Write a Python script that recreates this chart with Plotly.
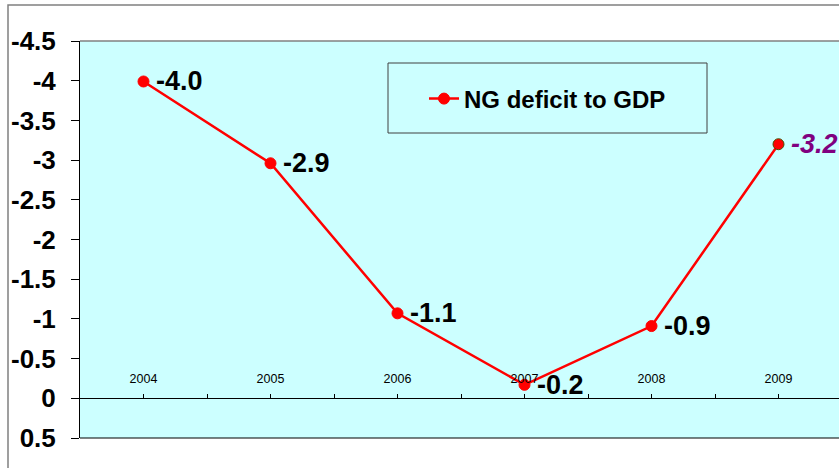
import plotly.graph_objects as go

# data
years = ["2004", "2005", "2006", "2007", "2008", "2009"]
deficit = [-3.99, -2.96, -1.07, -0.17, -0.91, -3.2]
value_labels = ["-4.0", "-2.9", "-1.1", "-0.2", "-0.9", "-3.2"]
y_ticks = [-4.5, -4, -3.5, -3, -2.5, -2, -1.5, -1, -0.5, 0, 0.5]

FONT = "Arial, Liberation Sans, sans-serif"
CYAN = "#CCFFFF"


def build_figure():
    x = list(range(len(years)))

    # last point is the projection: purple italic label, darker marker rim
    label_colors = ["black"] * (len(years) - 1) + ["#800080"]
    label_texts = value_labels[:-1] + [f"<i>{value_labels[-1]}</i>"]
    rim_colors = ["red"] * (len(years) - 1) + ["#4d4d00"]

    fig = go.Figure(
        go.Scatter(
            x=x,
            y=deficit,
            mode="lines+markers",
            name="NG deficit to GDP",
            line=dict(color="red", width=2.5),
            marker=dict(color="red", size=11, line=dict(color=rim_colors, width=1)),
        )
    )

    for xi, yi, txt, col in zip(x, deficit, label_texts, label_colors):
        fig.add_annotation(
            x=xi, y=yi, text=txt, showarrow=False,
            xanchor="left", yanchor="middle", xshift=10,
            font=dict(family=FONT, size=27, color=col, weight="bold"),
        )

    # category ticks at centres and boundaries, labels only at centres
    tickvals = []
    ticktext = []
    for i, yr in enumerate(years):
        tickvals += [i, i + 0.5]
        ticktext += [yr, ""]

    fig.update_xaxes(
        range=[-0.5, -0.5 + 759 / 127],
        tickvals=tickvals,
        ticktext=ticktext,
        side="top",
        anchor="free",
        position=0.1,
        showline=True,
        linecolor="black",
        linewidth=1,
        ticks="outside",
        ticklen=4,
        tickcolor="black",
        ticklabelstandoff=6,
        showgrid=False,
        zeroline=False,
        tickfont=dict(family=FONT, size=12.5, color="black"),
    )
    fig.update_yaxes(
        range=[0.5, -4.5],
        tickvals=y_ticks,
        ticktext=[f"{v:g}" for v in y_ticks],
        showline=True,
        linecolor="black",
        linewidth=1,
        ticks="outside",
        ticklen=8,
        tickcolor="black",
        ticklabelstandoff=10,
        showgrid=False,
        zeroline=False,
        tickfont=dict(family=FONT, size=26, color="black", weight="bold"),
    )

    shapes = [
        # outer chart frame
        dict(type="rect", xref="paper", yref="paper",
             x0=(8 - 80) / 759, x1=1.2, y0=-0.2, y1=1 + 36 / 397,
             line=dict(color="#808080", width=1.5)),
        # top and bottom edges of the plot area
        dict(type="line", xref="paper", yref="paper", x0=0, x1=1, y0=1, y1=1,
             line=dict(color="#808080", width=1.5)),
        dict(type="line", xref="paper", yref="paper", x0=0, x1=1, y0=0, y1=0,
             line=dict(color="black", width=1)),
        # legend box
        dict(type="rect", xref="paper", yref="paper",
             x0=(388 - 80) / 759, x1=(707 - 80) / 759,
             y0=(438 - 133) / 397, y1=(438 - 63) / 397,
             line=dict(color="#404040", width=1)),
    ]

    fig.update_layout(
        width=839,
        height=468,
        margin=dict(l=80, r=0, t=41, b=30),
        paper_bgcolor="white",
        plot_bgcolor=CYAN,
        shapes=shapes,
        showlegend=True,
        legend=dict(
            x=(424 - 80) / 759, y=(438 - 99) / 397,
            xanchor="left", yanchor="middle",
            bgcolor="rgba(0,0,0,0)", borderwidth=0,
            font=dict(family=FONT, size=24, color="black", weight="bold"),
        ),
        font=dict(family=FONT),
    )
    return fig


def main():
    fig = build_figure()
    # drop the default page margin so the 839x468 figure fills the window
    fig.write_html(
        "out.html",
        config={"displayModeBar": False},
        post_script="document.body.style.margin='0';document.body.style.overflow='hidden';",
    )


if __name__ == "__main__":
    main()
